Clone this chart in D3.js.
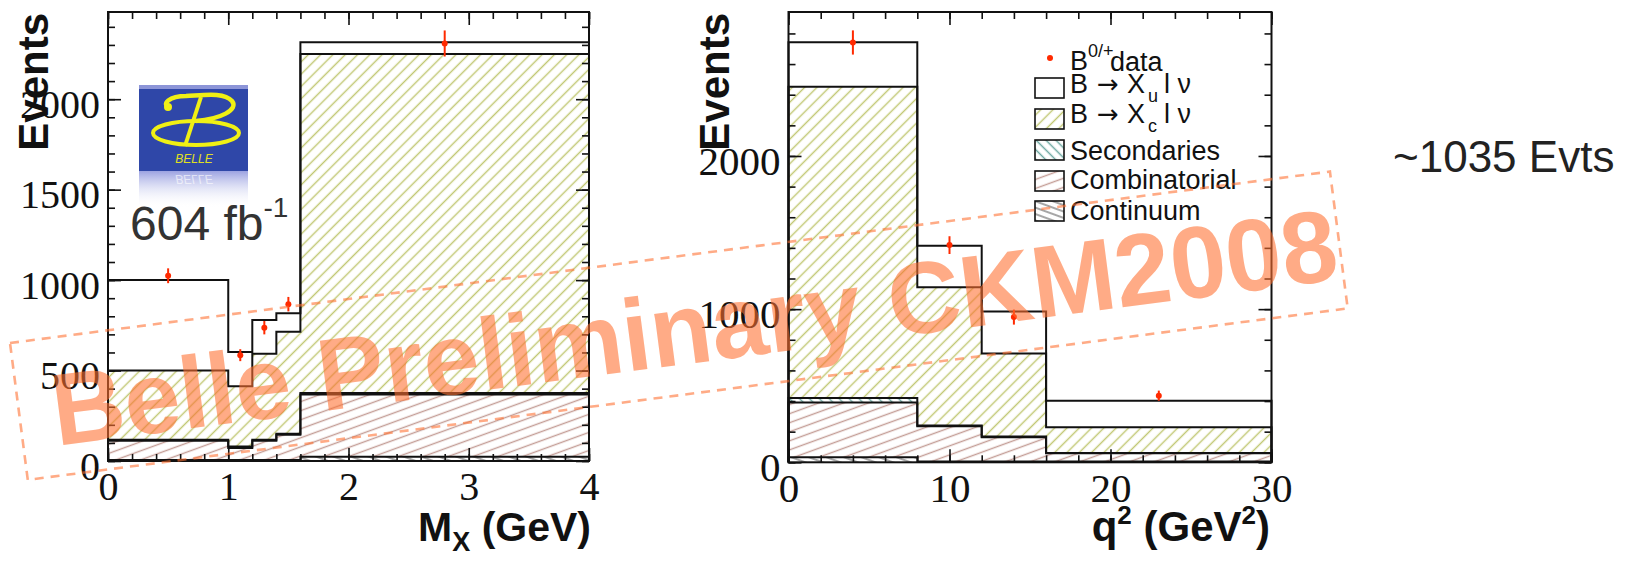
<!DOCTYPE html>
<html>
<head>
<meta charset="utf-8">
<script src="https://cdn.jsdelivr.net/npm/d3@7"></script>
<style>
  body { margin: 0; background: #fff; }
  svg { display: block; }
</style>
</head>
<body>
<svg id="chart" width="1626" height="561"></svg>
<script>
// ---- data ----
// M_X panel (GeV)
const mxEdges = [0, 1, 1.2, 1.4, 1.6, 4];
const mxContinuum = [5, 5, 5, 5, 24];
const mxCombinatorial = [107, 67, 107, 140, 344];
const mxSecondaries = [5, 8, 5, 5, 8];
const mxXc = [383, 333, 476, 565, 1874];
const mxXu = [500, 189, 186, 102, 65];
const mxDataX = [0.5, 1.1, 1.3, 1.5, 2.8];
const mxDataY = [1024, 585, 737, 867, 2308];
const mxDataErr = [41, 33, 37, 40, 72];
const mxTicks = [0, 1, 2, 3, 4];
const mxEventTicks = [0, 500, 1000, 1500, 2000];

// q^2 panel (GeV^2)
const q2Edges = [0, 8, 12, 16, 30];
const q2Continuum = [33, 5, 5, 5];
const q2Combinatorial = [358, 230, 158, 54];
const q2Secondaries = [29, 5, 5, 2];
const q2Xc = [2032, 903, 542, 168];
const q2Xu = [291, 271, 274, 173];
const q2DataX = [4, 10, 14, 23];
const q2DataY = [2741, 1418, 948, 435];
const q2DataErr = [79, 58, 49, 33];
const q2Ticks = [0, 10, 20, 30];
const q2EventTicks = [0, 1000, 2000];

const layerKeys = ["continuum", "combinatorial", "secondaries", "xc", "xu"];
const legendLabels = ["data", "B → X_u l ν", "B → X_c l ν", "Secondaries", "Combinatorial", "Continuum"];

const svg = d3.select("#chart");
const defs = svg.append("defs");

// hatch patterns (ROOT style fills)
function hatch(id, color, angle, gap, width) {
    const p = defs.append("pattern")
        .attr("id", id)
        .attr("patternUnits", "userSpaceOnUse")
        .attr("width", 40).attr("height", gap)
        .attr("patternTransform", `rotate(${angle})`);
    p.append("line")
        .attr("x1", 0).attr("x2", 40)
        .attr("y1", gap / 2).attr("y2", gap / 2)
        .attr("stroke", color)
        .attr("stroke-width", width);
}
hatch("h-xc", "#c1c874", -45, 8.7, 1.5);
hatch("h-comb", "#c49d96", -20, 8.5, 1.3);
hatch("h-sec", "#6fa9a3", 45, 7, 1.3);
hatch("h-cont", "#8a8a8a", 20, 6, 1.3);

const layerFill = {
    continuum: "url(#h-cont)",
    combinatorial: "url(#h-comb)",
    secondaries: "url(#h-sec)",
    xc: "url(#h-xc)",
    xu: "#fff"
};

const panels = [
    {
        left: 108, right: 589, top: 12, bottom: 461,
        xMax: 4, yMax: 2482,
        edges: mxEdges,
        layers: { continuum: mxContinuum, combinatorial: mxCombinatorial, secondaries: mxSecondaries, xc: mxXc, xu: mxXu },
        dataX: mxDataX, dataY: mxDataY, dataErr: mxDataErr,
        xTicks: mxTicks, xMinorStep: 0.2,
        yTicks: mxEventTicks, yMinorStep: 100,
        tickFont: 40,
        titleSize: 42, titleX: 48
    },
    {
        left: 788.5, right: 1271.5, top: 12, bottom: 462.3,
        xMax: 30, yMax: 2940,
        edges: q2Edges,
        layers: { continuum: q2Continuum, combinatorial: q2Combinatorial, secondaries: q2Secondaries, xc: q2Xc, xu: q2Xu },
        dataX: q2DataX, dataY: q2DataY, dataErr: q2DataErr,
        xTicks: q2Ticks, xMinorStep: 2,
        yTicks: q2EventTicks, yMinorStep: 200,
        tickFont: 41,
        titleSize: 42, titleX: 729
    }
];

function drawPanel(p) {
    const x = d3.scaleLinear().domain([0, p.xMax]).range([p.left, p.right]);
    const y = d3.scaleLinear().domain([0, p.yMax]).range([p.bottom, p.top]);
    const g = svg.append("g");

    const rows = p.edges.slice(0, -1).map((e, i) => {
        const r = { x0: e, x1: p.edges[i + 1] };
        layerKeys.forEach(k => r[k] = p.layers[k][i]);
        return r;
    });
    const series = d3.stack().keys(layerKeys)(rows);

    const area = d3.area().curve(d3.curveStepAfter)
        .x(d => x(d.x)).y0(d => y(d.y0)).y1(d => y(d.y1));
    const line = d3.line().curve(d3.curveStepAfter)
        .x(d => x(d.x)).y(d => y(d.v));

    // fills
    series.forEach(s => {
        const pts = s.map(d => ({ x: d.data.x0, y0: d[0], y1: d[1] }));
        const last = s[s.length - 1];
        pts.push({ x: last.data.x1, y0: last[0], y1: last[1] });
        g.append("path").datum(pts)
            .attr("d", area)
            .attr("fill", layerFill[s.key]);
    });

    // outlines of the cumulative histograms
    series.forEach(s => {
        const pts = [{ x: p.edges[0], v: 0 }];
        s.forEach(d => pts.push({ x: d.data.x0, v: d[1] }));
        const last = s[s.length - 1];
        pts.push({ x: last.data.x1, v: last[1] });
        pts.push({ x: last.data.x1, v: 0 });
        g.append("path").datum(pts)
            .attr("d", line)
            .attr("fill", "none")
            .attr("stroke", "#111")
            .attr("stroke-width", 2);
    });

    // frame
    g.append("rect")
        .attr("x", p.left).attr("y", p.top)
        .attr("width", p.right - p.left).attr("height", p.bottom - p.top)
        .attr("fill", "none").attr("stroke", "#111").attr("stroke-width", 2);

    const xMinor = d3.range(0, p.xMax + 1e-9, p.xMinorStep);
    const yMinor = d3.range(0, p.yMax, p.yMinorStep);

    const styleAxis = sel => {
        sel.select(".domain").remove();
        sel.selectAll(".tick line").attr("stroke", "#111").attr("stroke-width", 1.6);
        sel.attr("font-family", "'Liberation Serif', 'Times New Roman', serif")
            .attr("font-size", p.tickFont)
            .attr("fill", "#111");
        sel.selectAll("text").attr("fill", "#111");
    };

    // bottom / top
    g.append("g").attr("transform", `translate(0,${p.bottom})`)
        .call(d3.axisBottom(x).tickValues(xMinor).tickSize(-7).tickFormat(""))
        .call(styleAxis);
    g.append("g").attr("transform", `translate(0,${p.bottom})`)
        .call(d3.axisBottom(x).tickValues(p.xTicks).tickSize(-13).tickPadding(11).tickFormat(d3.format("d")))
        .call(styleAxis);
    g.append("g").attr("transform", `translate(0,${p.top})`)
        .call(d3.axisTop(x).tickValues(xMinor).tickSize(-7).tickFormat(""))
        .call(styleAxis);
    g.append("g").attr("transform", `translate(0,${p.top})`)
        .call(d3.axisTop(x).tickValues(p.xTicks).tickSize(-13).tickFormat(""))
        .call(styleAxis);

    // left / right
    g.append("g").attr("transform", `translate(${p.left},0)`)
        .call(d3.axisLeft(y).tickValues(yMinor).tickSize(-7).tickFormat(""))
        .call(styleAxis);
    g.append("g").attr("transform", `translate(${p.left},0)`)
        .call(d3.axisLeft(y).tickValues(p.yTicks).tickSize(-13).tickPadding(8).tickFormat(d3.format("d")))
        .call(styleAxis)
        .call(sel => sel.selectAll("text").attr("dy", "0.45em"));
    g.append("g").attr("transform", `translate(${p.right},0)`)
        .call(d3.axisRight(y).tickValues(yMinor).tickSize(-7).tickFormat(""))
        .call(styleAxis);
    g.append("g").attr("transform", `translate(${p.right},0)`)
        .call(d3.axisRight(y).tickValues(p.yTicks).tickSize(-13).tickFormat(""))
        .call(styleAxis);

    // data points
    const pts = p.dataX.map((v, i) => ({ x: v, y: p.dataY[i], e: p.dataErr[i] }));
    g.selectAll(".err").data(pts).join("line")
        .attr("x1", d => x(d.x)).attr("x2", d => x(d.x))
        .attr("y1", d => y(d.y - d.e)).attr("y2", d => y(d.y + d.e))
        .attr("stroke", "#ff2a00").attr("stroke-width", 2);
    g.selectAll(".pt").data(pts).join("circle")
        .attr("cx", d => x(d.x)).attr("cy", d => y(d.y)).attr("r", 3)
        .attr("fill", "#ff2a00");

    // y title
    g.append("text")
        .attr("transform", `translate(${p.titleX},${p.top + 1}) rotate(-90)`)
        .attr("text-anchor", "end")
        .attr("font-family", "'Liberation Sans', Arial, sans-serif")
        .attr("font-weight", "bold")
        .attr("font-size", p.titleSize)
        .attr("fill", "#111")
        .text("Events");

    return { x, y };
}

panels.forEach(drawPanel);

// axis titles
const titleFont = "'Liberation Sans', Arial, sans-serif";
const mxTitle = svg.append("text")
    .attr("x", 591).attr("y", 541)
    .attr("text-anchor", "end")
    .attr("font-family", titleFont).attr("font-weight", "bold")
    .attr("font-size", 41).attr("fill", "#111");
mxTitle.append("tspan").text("M");
mxTitle.append("tspan").attr("dy", 10).attr("font-size", 27).text("X");
mxTitle.append("tspan").attr("dy", -10).text(" (GeV)");

const q2Title = svg.append("text")
    .attr("x", 1270).attr("y", 541)
    .attr("text-anchor", "end")
    .attr("font-family", titleFont).attr("font-weight", "bold")
    .attr("font-size", 42).attr("fill", "#111");
q2Title.append("tspan").text("q");
q2Title.append("tspan").attr("dy", -17).attr("font-size", 26).text("2");
q2Title.append("tspan").attr("dy", 17).text(" (GeV");
q2Title.append("tspan").attr("dy", -17).attr("font-size", 26).text("2");
q2Title.append("tspan").attr("dy", 17).text(")");

// legend on the q^2 panel
const leg = svg.append("g")
    .attr("font-family", titleFont)
    .attr("font-size", 27)
    .attr("fill", "#111");
leg.append("circle").attr("cx", 1050).attr("cy", 58).attr("r", 3).attr("fill", "#ff2a00");
leg.append("text").attr("x", 1070).attr("y", 70).text("B");
leg.append("text").attr("x", 1088).attr("y", 57).attr("font-size", 18).text("0/+");
leg.append("text").attr("x", 1110).attr("y", 71).text(legendLabels[0]);

const legendRows = [
    { key: "xu", box: 78, base: 93 },
    { key: "xc", box: 109, base: 123 },
    { key: "secondaries", box: 140, base: 160 },
    { key: "combinatorial", box: 171, base: 189 },
    { key: "continuum", box: 201, base: 220 }
];
legendRows.forEach((r, i) => {
    leg.append("rect")
        .attr("x", 1035).attr("y", r.box)
        .attr("width", 29).attr("height", 20)
        .attr("fill", layerFill[r.key])
        .attr("stroke", "#111").attr("stroke-width", 1.6);
    const label = legendLabels[i + 1];
    const t = leg.append("text").attr("x", 1070).attr("y", r.base);
    if (label.includes("_")) {
        // "B → X_u l ν": place the pieces like the ROOT latex layout
        const [head, tail] = label.split("_");
        const parts = head.split(" ");
        t.append("tspan").attr("x", 1070).text(parts[0]);
        t.append("tspan").attr("x", 1097).attr("font-family", "'DejaVu Sans', sans-serif")
            .attr("font-size", 26).text(parts[1]);
        t.append("tspan").attr("x", 1127).text(parts[2]);
        t.append("tspan").attr("x", 1148).attr("dy", 9).attr("font-size", 18).text(tail[0]);
        t.append("tspan").attr("x", 1164).attr("dy", -9).text(tail.slice(2));
    } else {
        t.text(label);
    }
});

// Belle logo
const logo = svg.append("g");
const lg = defs.append("linearGradient").attr("id", "refl").attr("x1", 0).attr("y1", 0).attr("x2", 0).attr("y2", 1);
lg.append("stop").attr("offset", 0).attr("stop-color", "#8a92dc").attr("stop-opacity", 0.85);
lg.append("stop").attr("offset", 1).attr("stop-color", "#ffffff").attr("stop-opacity", 0);
logo.append("rect").attr("x", 139).attr("y", 85).attr("width", 109).attr("height", 86).attr("fill", "#2f47a8");
logo.append("rect").attr("x", 139).attr("y", 85).attr("width", 109).attr("height", 4).attr("fill", "#8d95d8");
logo.append("rect").attr("x", 139).attr("y", 171).attr("width", 109).attr("height", 37).attr("fill", "url(#refl)");
const yel = "#f0f014";
logo.append("ellipse").attr("cx", 196).attr("cy", 133).attr("rx", 43).attr("ry", 12)
    .attr("fill", "none").attr("stroke", yel).attr("stroke-width", 4);
logo.append("path")
    .attr("d", "M170,108 C160,104 170,96 186,96 C205,95 224,92 232,101 C239,110 220,119 196,121")
    .attr("fill", "none").attr("stroke", yel).attr("stroke-width", 4.5);
logo.append("path").attr("d", "M201,97 L185,146")
    .attr("stroke", yel).attr("stroke-width", 4);
logo.append("circle").attr("cx", 168).attr("cy", 107).attr("r", 4).attr("fill", yel);
logo.append("text").attr("x", 194).attr("y", 163).attr("text-anchor", "middle")
    .attr("font-family", titleFont).attr("font-style", "italic")
    .attr("font-size", 12).attr("fill", "#e0e020").text("BELLE");
logo.append("text").attr("x", 194).attr("y", 175).attr("text-anchor", "middle")
    .attr("transform", "translate(0,350) scale(1,-1)")
    .attr("font-family", titleFont).attr("font-style", "italic")
    .attr("font-size", 12).attr("fill", "#fff").attr("opacity", 0.6).text("BELLE");

// luminosity
const lumi = svg.append("text").attr("x", 130).attr("y", 240)
    .attr("font-family", titleFont).attr("font-size", 48).attr("fill", "#333");
lumi.append("tspan").text("604 fb");
lumi.append("tspan").attr("dy", -23).attr("font-size", 28).text("-1");

// side note
svg.append("text").attr("x", 1393).attr("y", 172)
    .attr("font-family", titleFont).attr("font-size", 44).attr("fill", "#222")
    .text("~1035 Evts");

// watermark
const wm = svg.append("g").attr("transform", "translate(10,343) rotate(-7.4)").attr("opacity", 0.58);
wm.append("rect").attr("x", 0).attr("y", 0).attr("width", 1331).attr("height", 138)
    .attr("fill", "none").attr("stroke", "#ff7030").attr("stroke-width", 2.6)
    .attr("stroke-dasharray", "9,7");
wm.append("text").attr("x", 33).attr("y", 108)
    .attr("font-family", titleFont).attr("font-weight", "bold")
    .attr("font-size", 102).attr("fill", "#ff7030")
    .attr("textLength", 1295).attr("lengthAdjust", "spacingAndGlyphs")
    .text("Belle Preliminary CKM2008");
</script>
</body>
</html>
